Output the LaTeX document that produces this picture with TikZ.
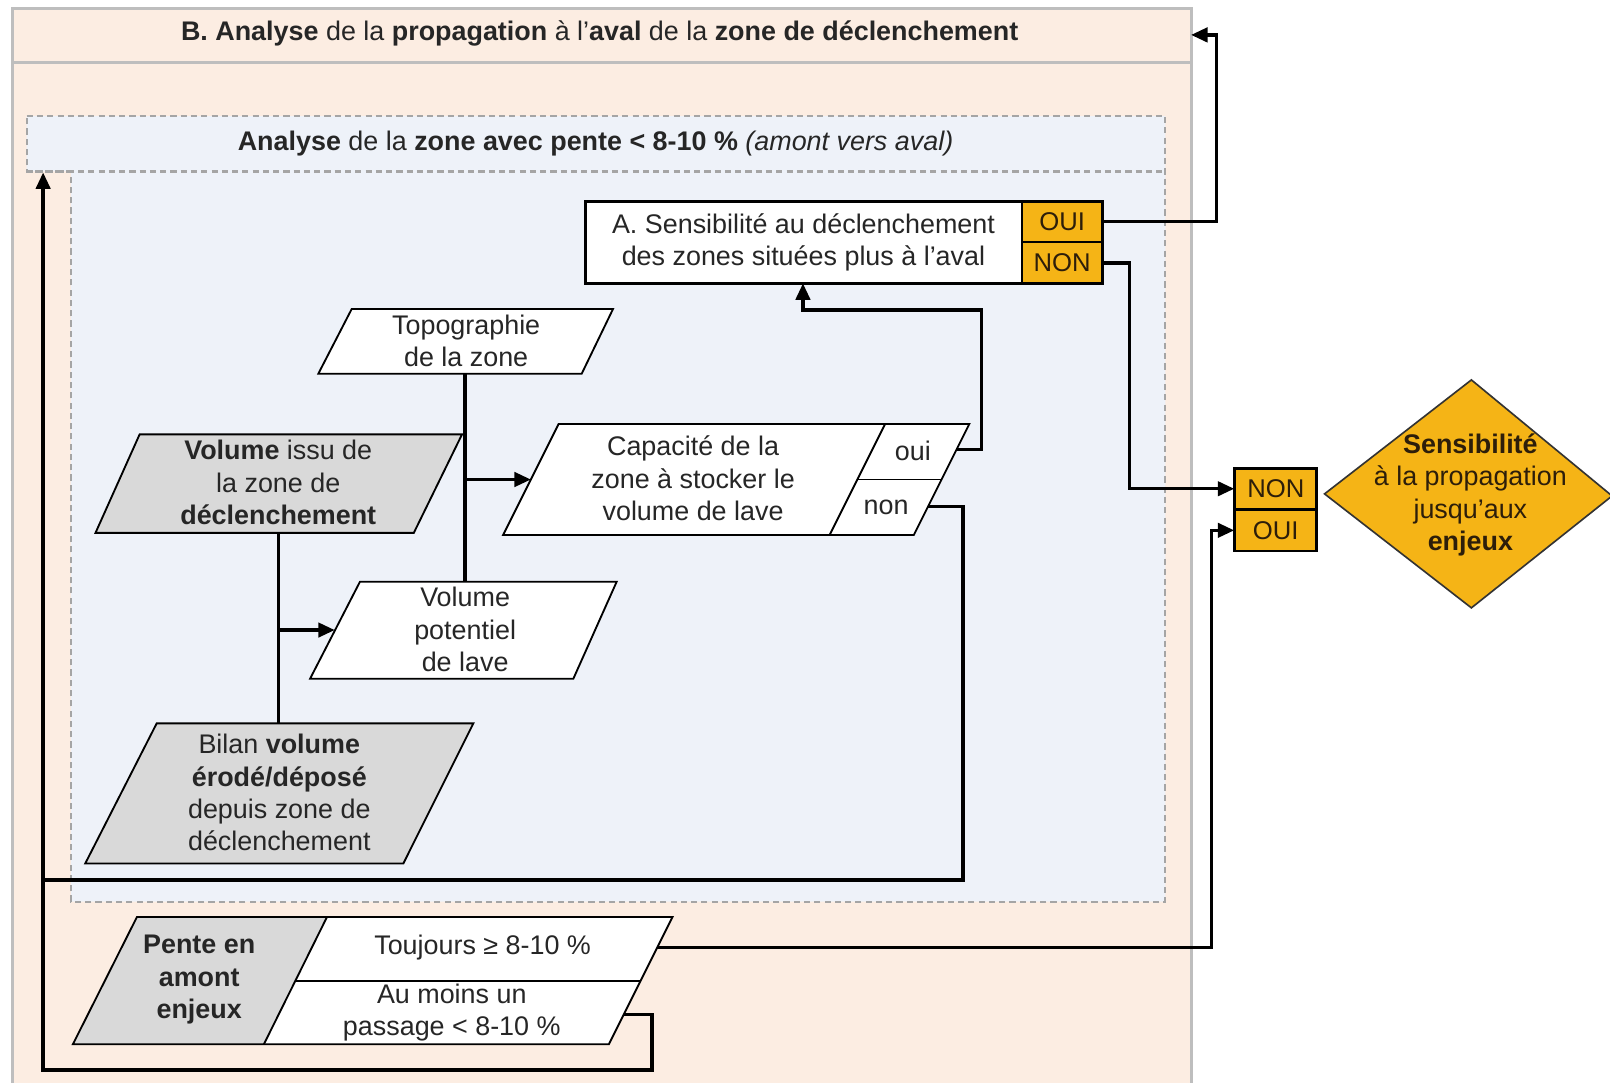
\documentclass[tikz,border=0pt]{standalone}
\usepackage{fontspec}
\setmainfont{Liberation Sans}
\usetikzlibrary{arrows.meta}
\definecolor{peach}{RGB}{252,237,226}
\definecolor{lblue}{RGB}{238,242,249}
\definecolor{grayfill}{RGB}{217,217,217}
\definecolor{orangec}{RGB}{245,180,22}
\definecolor{bordergray}{RGB}{190,190,190}
\definecolor{dashgray}{RGB}{165,165,165}
\definecolor{txtbrown}{RGB}{45,30,10}
\begin{document}
\begin{tikzpicture}[x=1pt,y=-1pt,
  wire/.style={line width=3.2pt, line join=miter},
  conn/.style={wire, -{Triangle[length=16pt,width=14pt]}},
  para/.style={draw=black, line width=1.8pt, fill=white, line join=miter},
  grayp/.style={para, fill=grayfill},
  txt/.style={align=center, font=\fontsize{26.2}{31.5}\selectfont, inner sep=0pt, text=black!85},
  cell/.style={draw=black, line width=2pt, fill=orangec, minimum width=79pt, minimum height=40pt, inner sep=0pt, font=\fontsize{25}{28}\selectfont, text=txtbrown}
  ]
\useasboundingbox (0,0) rectangle (1568,1054);
\fill[white] (0,0) rectangle (1568,1054);

% outer frame B
\draw[bordergray, line width=3pt, fill=peach] (12,8) rectangle (1160,1070);
\draw[bordergray, line width=3pt] (12,61) -- (1160,61);
\node[txt] (titleB) at (584,33) {\textbf{B. Analyse} de la \textbf{propagation} à l’\textbf{aval} de la \textbf{zone de déclenchement}};

% inner dashed zone
\draw[dashgray, line width=2pt, dash pattern=on 6pt off 4pt, fill=lblue]
  (26,113) -- (1135,113) -- (1135,878) -- (69,878) -- (69,167) -- (26,167) -- cycle;
\draw[dashgray, line width=2pt, dash pattern=on 6pt off 4pt] (26,167) -- (1135,167);
\node[txt] (titleZ) at (580,140) {\textbf{Analyse} de la \textbf{zone avec pente < 8-10 \%} \textit{(amont vers aval)}};

% Box A
\fill[white] (570,196) rectangle (995,276);
\node[txt] (A) at (782.5,236) {A. Sensibilité au déclenchement\\des zones situées plus à l’aval};
\node[cell] (aoui) at (1034.5,216) {OUI};
\node[cell] (anon) at (1034.5,256) {NON};
\draw[line width=2.8pt] (570,196) rectangle (1074,276);

% Topographie
\draw[para] (342.5,301) -- (597,301) -- (566.5,364) -- (310,364) -- cycle;
\node[txt] (topo) at (454,332) {Topographie\\de la zone};

% Volume issu
\draw[grayp] (136,423) -- (450,423) -- (403,519) -- (93,519) -- cycle;
\node[txt] (vissu) at (271,470) {\textbf{Volume} issu de\\la zone de\\\textbf{déclenchement}};

% Capacite
\draw[para] (544,413) -- (944,413) -- (890,521) -- (490,521) -- cycle;
\draw[line width=1.8pt] (862,413) -- (808,521);
\draw[line width=1.8pt] (835,467) -- (917,467);
\node[txt] (cap) at (675,466) {Capacité de la\\zone à stocker le\\volume de lave};
\node[txt] (oui) at (889,439) {oui};
\node[txt] (non) at (863,494) {non};

% Volume potentiel
\draw[para] (350.6,566.5) -- (600.6,566.5) -- (558.4,661) -- (302,661) -- cycle;
\node[txt] (vpot) at (453,613) {Volume\\potentiel\\de lave};

% Bilan
\draw[grayp] (152.6,704.5) -- (461,704.5) -- (392.8,841) -- (83,841) -- cycle;
\node[txt] (bilan) at (272,772) {Bilan \textbf{volume}\\\textbf{érodé/déposé}\\depuis zone de\\déclenchement};

% Pente
\fill[white] (133.4,893) -- (655,893) -- (593,1017) -- (71,1017) -- cycle;
\fill[grayfill] (133.4,893) -- (318.5,893) -- (257,1017) -- (71,1017) -- cycle;
\draw[para, fill=none] (133.4,893) -- (655,893) -- (593,1017) -- (71,1017) -- cycle;
\draw[line width=1.8pt] (318.5,893) -- (257,1017);
\draw[line width=1.8pt] (287.5,955) -- (624,955);
\node[txt] (pente) at (194,954) {\textbf{Pente en}\\\textbf{amont}\\\textbf{enjeux}};
\node[txt] (touj) at (470,923) {Toujours ≥ 8-10 \%};
\node[txt] (aumoins) at (440,986) {Au moins un\\passage < 8-10 \%};

% Final decision
\node[cell] (fnon) at (1242.5,476) {NON};
\node[cell] (foui) at (1242.5,516.5) {OUI};
\draw[line width=2.6pt] (1202.5,456) rectangle (1282.5,536.5);
\draw[line width=1.6pt, draw=black!80, fill=orangec] (1290,481) -- (1433,370) -- (1570,483) -- (1433,592) -- cycle;
\node[txt, text=txtbrown] (sens) at (1432,482) {\textbf{Sensibilité}\\à la propagation\\jusqu’aux\\\textbf{enjeux}};

% connection points
\coordinate (topoB) at (453,364);
\coordinate (vpotT) at (453,566.5);
\coordinate (capL) at (517,467);
\coordinate (topoJ) at (453,467);
\coordinate (vissuB) at (271,519);
\coordinate (bilanT) at (271,704.5);
\coordinate (vissuJ) at (271,613.6);
\coordinate (vpotL) at (326,613.6);
\coordinate (ouiR) at (931.5,438);
\coordinate (nonR) at (903.5,493.5);
\coordinate (Abot) at (782,276);
\coordinate (toujR) at (640,923);
\coordinate (aumR) at (607.5,988);
\coordinate (zoneIn) at (42,168);
\coordinate (Bin) at (1160,34);

% connectors
\draw[wire] (topoB) -- (vpotT);
\draw[conn] (topoJ) -- (capL);
\draw[wire] (vissuB) -- (bilanT);
\draw[conn] (vissuJ) -- (vpotL);
\draw[conn] (ouiR) -- (956,438) -- (956,302) -- (782,302) -- (Abot);
\draw[wire] (nonR) -- (938,493.5) -- (938,857) -- (42,857);
\draw[conn] (aumR) -- (635,988) -- (635,1042) -- (42,1042) -- (zoneIn);
\draw[conn] (toujR) -- (1180,923) -- (1180,516.5) -- (foui.west);
\draw[conn] (anon.east) -- (1100,256) -- (1100,476) -- (fnon.west);
\draw[conn] (aoui.east) -- (1185,216) -- (1185,34) -- (Bin);
\end{tikzpicture}
\end{document}
